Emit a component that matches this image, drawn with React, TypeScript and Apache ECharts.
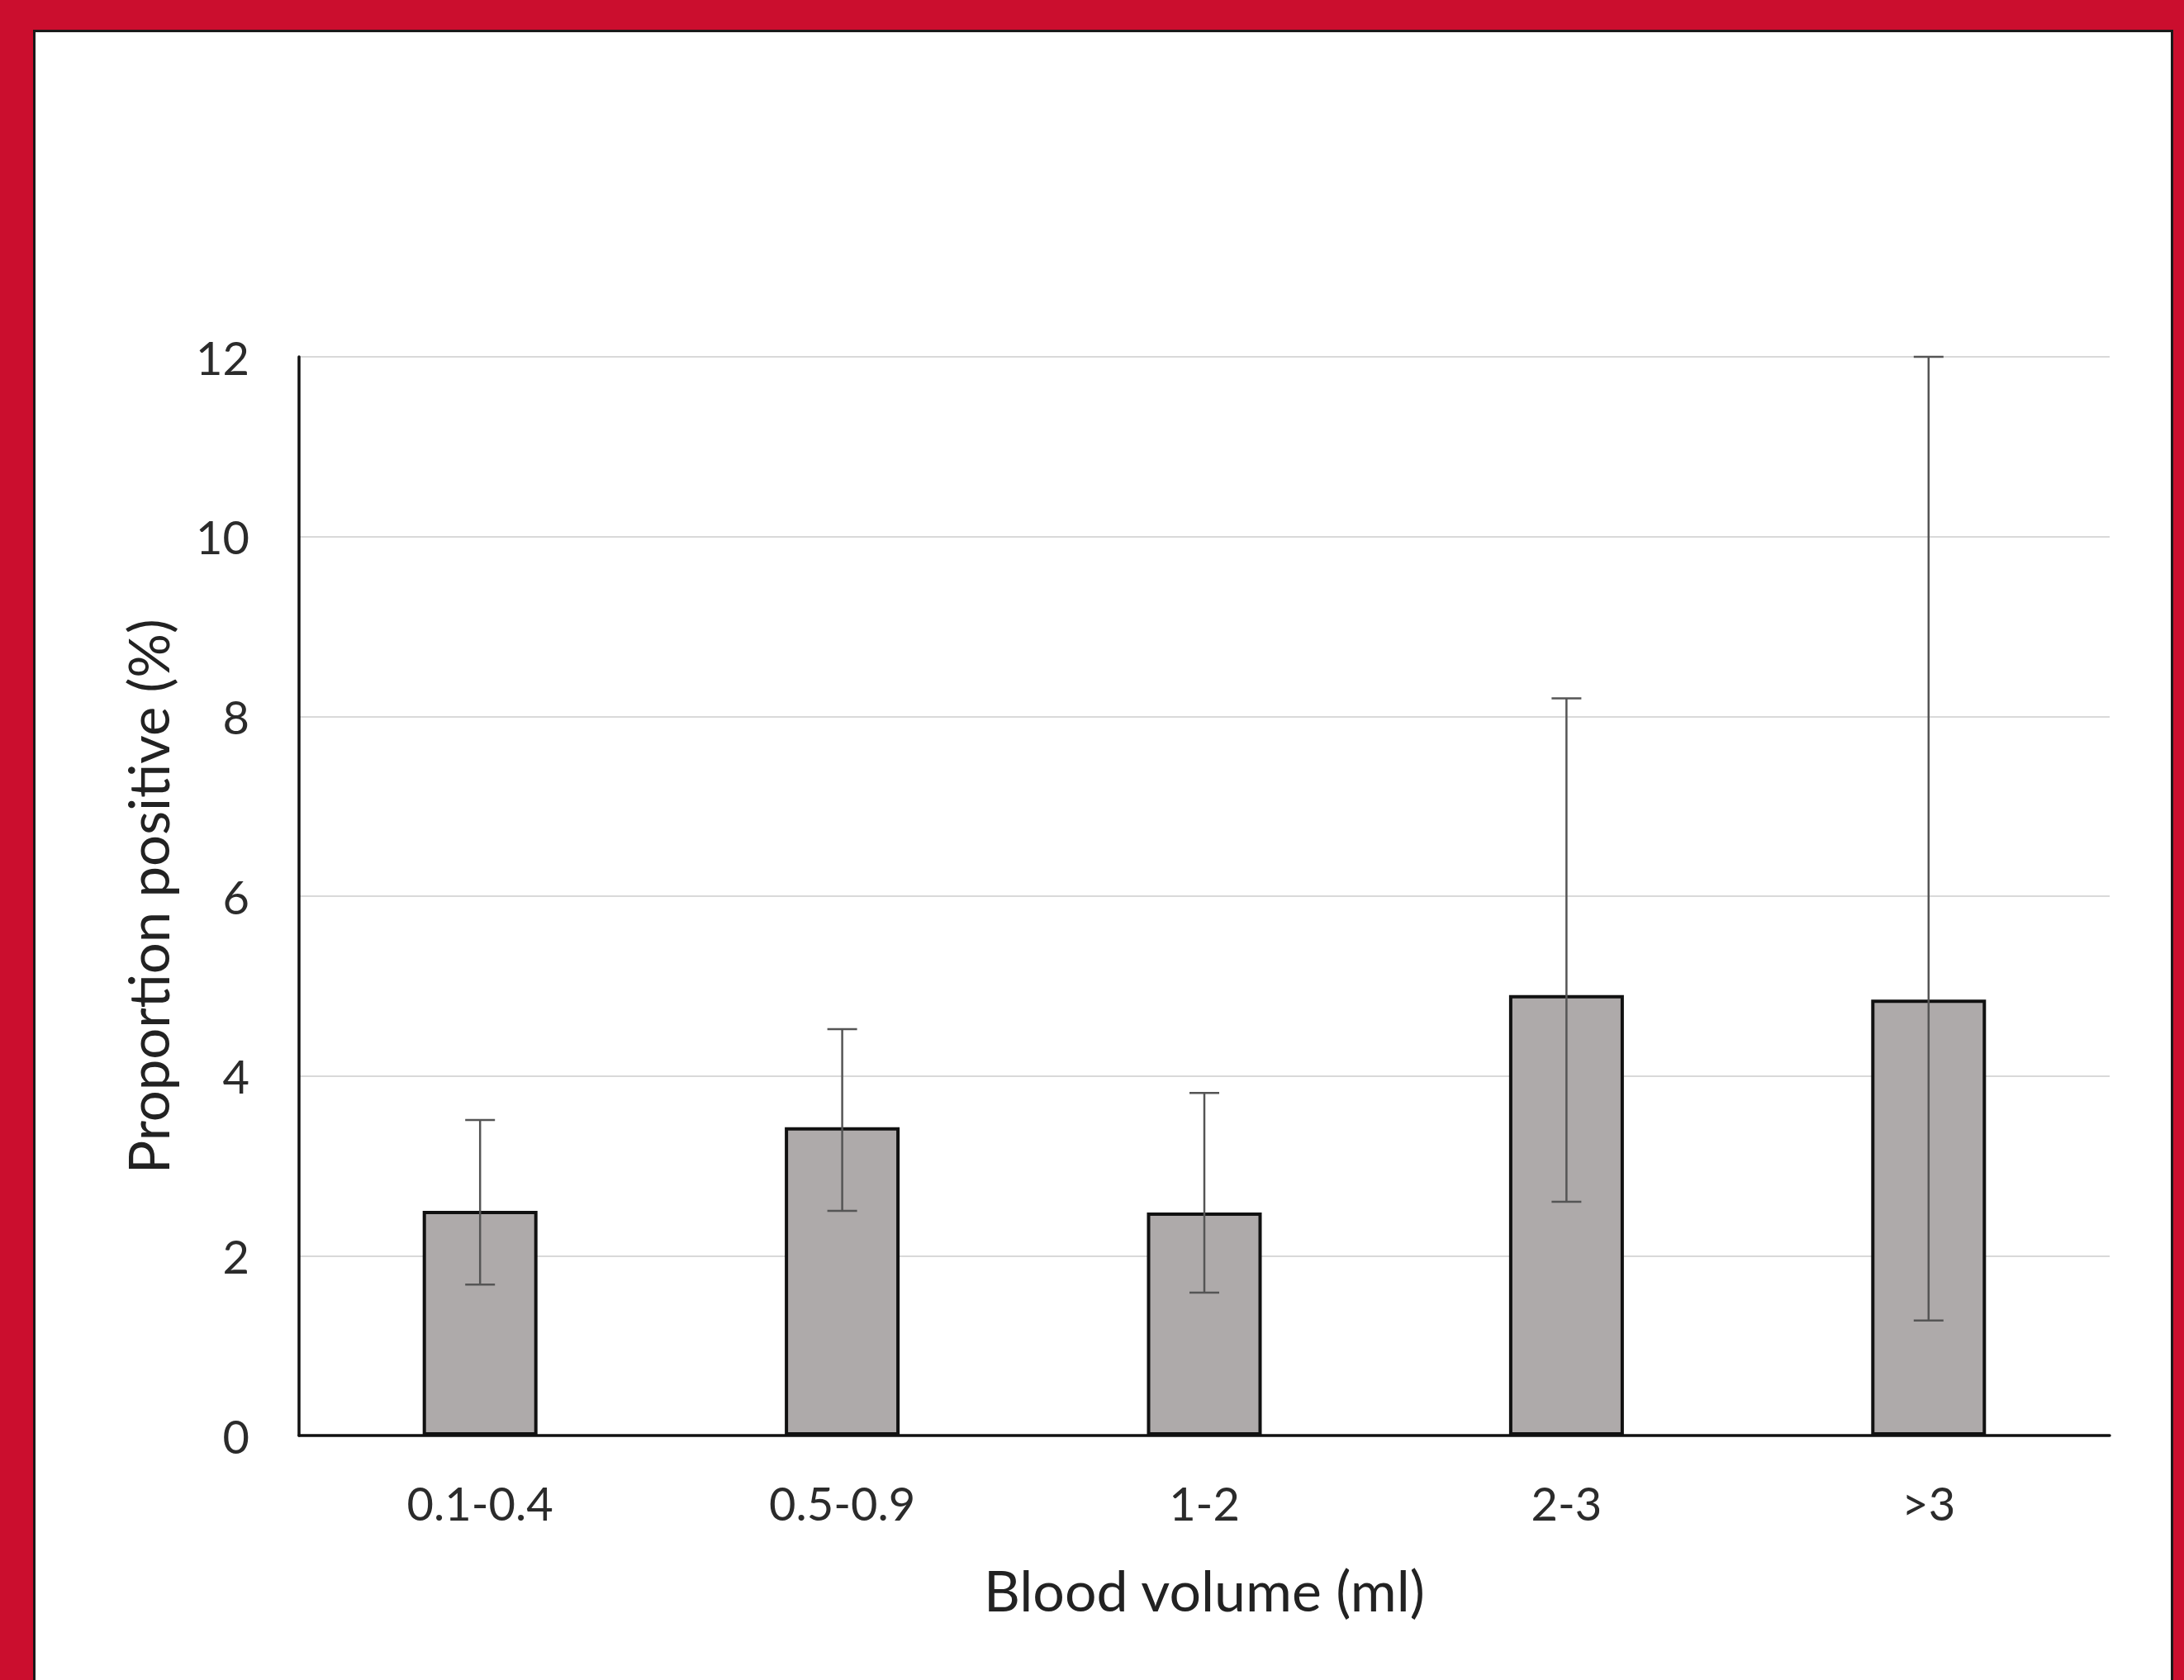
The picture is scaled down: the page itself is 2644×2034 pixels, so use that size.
import React, { useEffect, useRef } from "react";
import * as echarts from "echarts";

const categories = ["0.1-0.4", "0.5-0.9", "1-2", "2-3", ">3"];
const proportion = [2.5, 3.43, 2.48, 4.9, 4.85];
const lowerCI = [1.68, 2.5, 1.59, 2.6, 1.28];
const upperCI = [3.51, 4.52, 3.81, 8.2, 12.0];
const yTicks = { min: 0, max: 12, interval: 2 };

const W = 2644;
const H = 2034;
const FONT = "Lato, 'Open Sans', sans-serif";

export default function App() {
  const ref = useRef<HTMLDivElement>(null);

  useEffect(() => {
    if (!ref.current) return;
    const chart = echarts.init(ref.current, null, { renderer: "svg" });
    const errData = categories.map((_, i) => [i, lowerCI[i], upperCI[i]]);
    chart.setOption({
      animation: false,
      backgroundColor: "transparent",
      textStyle: { fontFamily: FONT },
      grid: {
        left: 362,
        right: 90,
        top: 432,
        bottom: 296,
        containLabel: false,
        outerBoundsMode: "none",
      },
      xAxis: {
        type: "category",
        data: categories,
        axisLine: { show: true, lineStyle: { color: "#111", width: 3.5 } },
        axisTick: { show: false },
        axisLabel: { fontSize: 56, color: "#2b2b2b", margin: 53, fontFamily: FONT },
        name: "Blood volume (ml)",
        nameLocation: "middle",
        nameGap: 152,
        nameTextStyle: { fontSize: 68, color: "#222", fontFamily: FONT },
      },
      yAxis: {
        type: "value",
        min: yTicks.min,
        max: yTicks.max,
        interval: yTicks.interval,
        axisLine: { show: true, lineStyle: { color: "#111", width: 3.5 } },
        axisTick: { show: false },
        axisLabel: { fontSize: 56, color: "#2b2b2b", margin: 60, fontFamily: FONT },
        splitLine: { show: true, lineStyle: { color: "#D9D9D9", width: 2 } },
        name: "Proportion positive (%)",
        nameLocation: "middle",
        nameRotate: 90,
        nameGap: 150,
        nameTextStyle: { fontSize: 67, color: "#222", fontFamily: FONT },
      },
      series: [
        {
          type: "bar",
          data: proportion,
          barWidth: 139,
          itemStyle: { color: "#AEAAAA", borderColor: "#111", borderWidth: 4 },
          z: 2,
        },
        {
          type: "custom",
          data: errData,
          encode: { x: 0, y: [1, 2] },
          z: 10,
          renderItem: (params: any, api: any) => {
            const idx = api.value(0);
            const lo = api.coord([idx, api.value(1)]);
            const hi = api.coord([idx, api.value(2)]);
            const half = 18;
            const style = { stroke: "#555555", lineWidth: 2.5 };
            return {
              type: "group",
              children: [
                { type: "line", shape: { x1: hi[0], y1: hi[1], x2: lo[0], y2: lo[1] }, style },
                { type: "line", shape: { x1: hi[0] - half, y1: hi[1], x2: hi[0] + half, y2: hi[1] }, style },
                { type: "line", shape: { x1: lo[0] - half, y1: lo[1], x2: lo[0] + half, y2: lo[1] }, style },
              ],
            };
          },
        },
      ],
    });
    return () => chart.dispose();
  }, []);

  return (
    <div style={{ position: "absolute", left: 0, top: 0, width: W, height: H, background: "#CB0E2E", overflow: "hidden" }}>
      <div
        style={{
          position: "absolute",
          left: 40,
          top: 36,
          width: W - 40 - 13,
          height: H - 36 + 10,
          background: "#FFFFFF",
          borderLeft: "3px solid #1a1a1a",
          borderTop: "3px solid #1a1a1a",
          borderRight: "3px solid #1a1a1a",
          boxSizing: "border-box",
        }}
      />
      <div ref={ref} style={{ position: "absolute", left: 0, top: 0, width: W, height: H }} />
    </div>
  );
}
